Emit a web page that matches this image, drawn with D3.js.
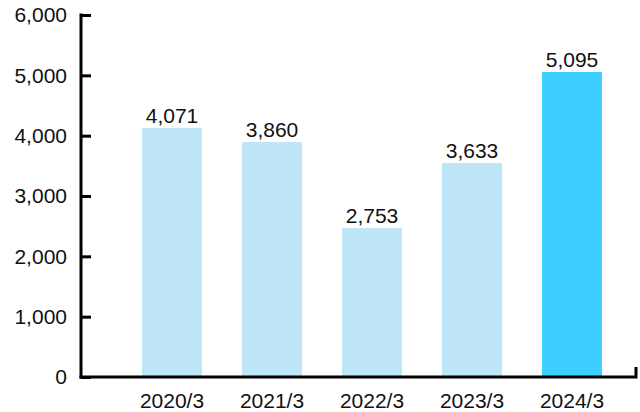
<!DOCTYPE html>
<html>
<head>
<meta charset="utf-8">
<script src="https://cdn.jsdelivr.net/npm/d3@7"></script>
<style>
  html, body { margin: 0; padding: 0; background: #fff; }
  svg { display: block; }
  text { font-family: "Liberation Sans", Arial, Helvetica, sans-serif; fill: #111; }
</style>
</head>
<body>
<svg id="chart" width="640" height="412"></svg>
<script>
// Data
const categories = ["2020/3", "2021/3", "2022/3", "2023/3", "2024/3"];
const barValues  = [4127, 3895, 2470, 3547, 5055];   // bar heights as drawn
const valueLabels = ["4,071", "3,860", "2,753", "3,633", "5,095"];
const highlight  = [false, false, false, false, true];
const yTicks     = [0, 1000, 2000, 3000, 4000, 5000, 6000];

const svg = d3.select("#chart");

const x = d3.scaleBand().domain(categories).range([122, 622])
  .paddingInner(0.4).paddingOuter(0.2);
const y = d3.scaleLinear().domain([0, 6000]).range([377, 15]);

const fmt = d3.format(",");
const FS = "21px";

// Bars
svg.append("g").selectAll("rect")
  .data(categories)
  .join("rect")
  .attr("x", d => x(d))
  .attr("width", x.bandwidth())
  .attr("y", (d, i) => y(barValues[i]))
  .attr("height", (d, i) => y(0) - y(barValues[i]))
  .attr("fill", (d, i) => highlight[i] ? "#3ccfff" : "#bee5f8");

// Value labels
svg.append("g").selectAll("text")
  .data(categories)
  .join("text")
  .attr("x", d => x(d) + x.bandwidth() / 2)
  .attr("y", (d, i) => y(barValues[i]) - 5)
  .attr("text-anchor", "middle")
  .style("font-size", FS)
  .text((d, i) => valueLabels[i]);

// Y axis
const yAxis = d3.axisLeft(y)
  .tickValues(yTicks)
  .tickFormat(fmt)
  .tickSizeInner(-10)
  .tickSizeOuter(0)
  .tickPadding(14);

const gy = svg.append("g").attr("transform", "translate(81,0)").call(yAxis);
gy.select(".domain").remove();
gy.selectAll(".tick line").attr("stroke", "#000").attr("stroke-width", 3);
gy.selectAll(".tick text")
  .style("font-size", FS)
  .attr("fill", "#111");

// Y axis line
svg.append("line")
  .attr("x1", 81).attr("x2", 81)
  .attr("y1", y(6000) - 1.5).attr("y2", y(0) + 1.5)
  .attr("stroke", "#000").attr("stroke-width", 3);

// X axis line with right end tick
svg.append("path")
  .attr("d", `M79.5,${y(0)}H636V${y(0) - 10}`)
  .attr("fill", "none")
  .attr("stroke", "#000").attr("stroke-width", 3);

// X labels
svg.append("g").selectAll("text")
  .data(categories)
  .join("text")
  .attr("x", d => x(d) + x.bandwidth() / 2)
  .attr("y", 408)
  .attr("text-anchor", "middle")
  .style("font-size", FS)
  .text(d => d);
</script>
</body>
</html>
